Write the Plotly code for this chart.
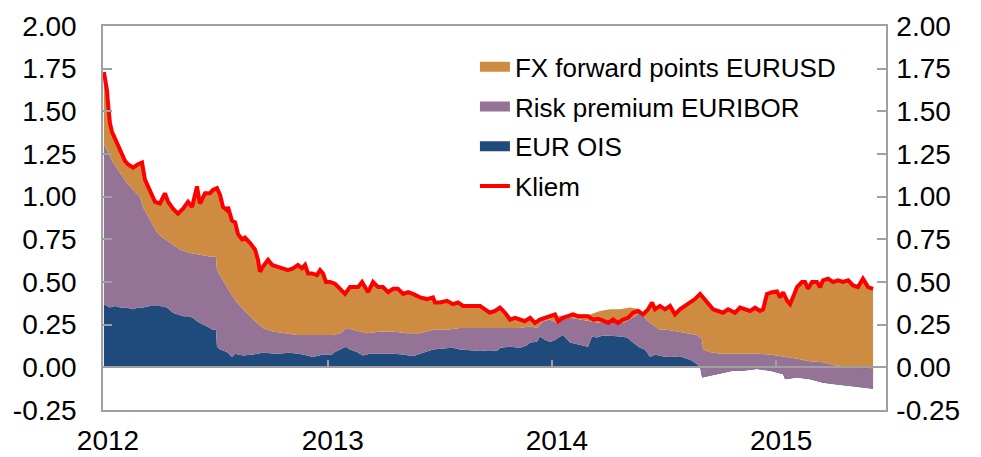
import pandas as pd
import plotly.graph_objects as go

# ---------------- data (decimal years, percentage points) ----------------
KLIEM_T = [2012.004, 2012.018, 2012.022, 2012.031, 2012.040, 2012.054, 2012.067, 2012.085, 2012.098, 2012.111,
           2012.134, 2012.156, 2012.174, 2012.187, 2012.210, 2012.232, 2012.254, 2012.276, 2012.290, 2012.312,
           2012.334, 2012.357, 2012.379, 2012.397, 2012.419, 2012.432, 2012.455, 2012.477, 2012.490, 2012.508,
           2012.522, 2012.535, 2012.553, 2012.557, 2012.575, 2012.589, 2012.602, 2012.620, 2012.633, 2012.655,
           2012.678, 2012.691, 2012.700, 2012.713, 2012.736, 2012.754, 2012.776, 2012.803, 2012.825, 2012.847,
           2012.869, 2012.887, 2012.901, 2012.914, 2012.932, 2012.954, 2012.968, 2012.981, 2012.994, 2013.012,
           2013.034, 2013.057, 2013.079, 2013.101, 2013.124, 2013.137, 2013.155, 2013.168, 2013.182, 2013.204,
           2013.226, 2013.248, 2013.271, 2013.293, 2013.315, 2013.338, 2013.360, 2013.382, 2013.413, 2013.445,
           2013.471, 2013.480, 2013.502, 2013.534, 2013.560, 2013.583, 2013.605, 2013.636, 2013.681, 2013.703,
           2013.725, 2013.748, 2013.770, 2013.792, 2013.815, 2013.837, 2013.859, 2013.881, 2013.904, 2013.926,
           2013.948, 2013.971, 2013.993, 2014.015, 2014.029, 2014.051, 2014.073, 2014.095, 2014.118, 2014.140,
           2014.162, 2014.185, 2014.207, 2014.238, 2014.252, 2014.274, 2014.296, 2014.318, 2014.341, 2014.363,
           2014.385, 2014.408, 2014.430, 2014.448, 2014.461, 2014.483, 2014.506, 2014.528, 2014.550, 2014.572,
           2014.595, 2014.617, 2014.639, 2014.662, 2014.675, 2014.697, 2014.720, 2014.742, 2014.764, 2014.787,
           2014.818, 2014.840, 2014.862, 2014.885, 2014.907, 2014.929, 2014.943, 2014.960, 2014.983, 2015.005,
           2015.018, 2015.032, 2015.050, 2015.063, 2015.076, 2015.094, 2015.116, 2015.130, 2015.143, 2015.161,
           2015.183, 2015.197, 2015.210, 2015.232, 2015.255, 2015.277, 2015.299, 2015.322, 2015.344, 2015.366,
           2015.388, 2015.411, 2015.433]
KLIEM_V = [1.73, 1.62, 1.55, 1.43, 1.38, 1.34, 1.29, 1.24, 1.21, 1.19,
           1.17, 1.19, 1.20, 1.10, 1.04, 0.97, 0.96, 1.02, 0.97, 0.93,
           0.90, 0.93, 0.97, 0.94, 1.06, 0.96, 1.02, 1.02, 1.04, 1.05,
           1.01, 0.94, 0.92, 0.94, 0.86, 0.85, 0.78, 0.75, 0.76, 0.73,
           0.69, 0.63, 0.56, 0.59, 0.63, 0.60, 0.59, 0.58, 0.57, 0.58,
           0.60, 0.58, 0.60, 0.55, 0.55, 0.54, 0.57, 0.55, 0.50, 0.50,
           0.49, 0.46, 0.43, 0.47, 0.47, 0.47, 0.50, 0.47, 0.44, 0.50,
           0.47, 0.47, 0.44, 0.46, 0.46, 0.43, 0.44, 0.43, 0.41, 0.40,
           0.41, 0.38, 0.38, 0.39, 0.37, 0.38, 0.36, 0.36, 0.36, 0.34,
           0.32, 0.33, 0.35, 0.32, 0.28, 0.29, 0.28, 0.27, 0.29, 0.26,
           0.28, 0.29, 0.30, 0.31, 0.27, 0.29, 0.30, 0.31, 0.30, 0.30,
           0.30, 0.28, 0.285, 0.27, 0.26, 0.28, 0.26, 0.28, 0.29, 0.32,
           0.33, 0.31, 0.34, 0.38, 0.34, 0.36, 0.34, 0.36, 0.31, 0.34,
           0.36, 0.385, 0.40, 0.43, 0.41, 0.38, 0.34, 0.33, 0.32, 0.34,
           0.32, 0.35, 0.34, 0.33, 0.35, 0.33, 0.34, 0.43, 0.44, 0.445,
           0.41, 0.44, 0.39, 0.37, 0.41, 0.47, 0.50, 0.50, 0.46, 0.50,
           0.50, 0.47, 0.51, 0.52, 0.50, 0.51, 0.50, 0.51, 0.48, 0.47,
           0.52, 0.47, 0.46]

# top of the stacked FX forward area where it departs from the Kliem line (H1 2014)
FX_TOP_2014_T = [2013.948, 2013.993, 2014.029, 2014.082, 2014.127, 2014.171, 2014.216, 2014.260, 2014.305,
                 2014.350, 2014.394]
FX_TOP_2014_V = [0.29, 0.31, 0.30, 0.31, 0.31, 0.31, 0.33, 0.34, 0.34, 0.35, 0.34]

EURIBOR_T = [2012.004, 2012.018, 2012.045, 2012.076, 2012.107, 2012.134, 2012.165, 2012.178, 2012.210, 2012.241,
             2012.268, 2012.299, 2012.343, 2012.388, 2012.432, 2012.477, 2012.504, 2012.508, 2012.535, 2012.566,
             2012.597, 2012.624, 2012.655, 2012.687, 2012.713, 2012.758, 2012.803, 2012.865, 2012.923, 2012.981,
             2013.025, 2013.057, 2013.088, 2013.115, 2013.177, 2013.235, 2013.293, 2013.355, 2013.413, 2013.471,
             2013.534, 2013.592, 2013.681, 2013.770, 2013.859, 2013.904, 2013.935, 2013.962, 2013.993, 2014.024,
             2014.038, 2014.082, 2014.127, 2014.171, 2014.216, 2014.274, 2014.318, 2014.363, 2014.394, 2014.416,
             2014.439, 2014.461, 2014.483, 2014.515, 2014.559, 2014.604, 2014.648, 2014.671, 2014.675, 2014.706,
             2014.751, 2014.795, 2014.853, 2014.916, 2014.974, 2015.032, 2015.094, 2015.152, 2015.210, 2015.272,
             2015.330, 2015.388, 2015.433]
EURIBOR_V = [1.31, 1.27, 1.20, 1.14, 1.08, 1.04, 1.00, 0.94, 0.86, 0.79,
             0.76, 0.73, 0.69, 0.67, 0.66, 0.65, 0.65, 0.57, 0.51, 0.44,
             0.38, 0.34, 0.30, 0.26, 0.23, 0.21, 0.20, 0.19, 0.19, 0.19,
             0.19, 0.20, 0.23, 0.22, 0.20, 0.21, 0.21, 0.20, 0.20, 0.22,
             0.22, 0.23, 0.23, 0.23, 0.23, 0.24, 0.23, 0.27, 0.28, 0.26,
             0.28, 0.29, 0.28, 0.27, 0.26, 0.26, 0.26, 0.29, 0.32, 0.29,
             0.26, 0.24, 0.22, 0.22, 0.21, 0.20, 0.19, 0.165, 0.105, 0.09,
             0.08, 0.08, 0.08, 0.08, 0.075, 0.065, 0.05, 0.035, 0.03, 0.01,
             0.005, -0.005, -0.01]

OIS_T = [2012.004, 2012.031, 2012.054, 2012.076, 2012.103, 2012.134, 2012.156, 2012.178, 2012.210, 2012.254,
         2012.285, 2012.312, 2012.334, 2012.357, 2012.379, 2012.401, 2012.419, 2012.432, 2012.464, 2012.490,
         2012.504, 2012.508, 2012.522, 2012.553, 2012.575, 2012.589, 2012.624, 2012.669, 2012.713, 2012.776,
         2012.834, 2012.892, 2012.936, 2012.981, 2013.021, 2013.034, 2013.057, 2013.083, 2013.101, 2013.132,
         2013.159, 2013.190, 2013.235, 2013.293, 2013.338, 2013.382, 2013.427, 2013.471, 2013.516, 2013.560,
         2013.592, 2013.636, 2013.681, 2013.725, 2013.757, 2013.770, 2013.815, 2013.859, 2013.890, 2013.904,
         2013.935, 2013.948, 2013.971, 2013.993, 2014.015, 2014.038, 2014.051, 2014.082, 2014.113, 2014.140,
         2014.162, 2014.180, 2014.202, 2014.225, 2014.260, 2014.305, 2014.336, 2014.363, 2014.394, 2014.416,
         2014.439, 2014.461, 2014.492, 2014.528, 2014.572, 2014.617, 2014.648, 2014.662, 2014.671, 2014.706,
         2014.751, 2014.809, 2014.853, 2014.916, 2014.974, 2015.032, 2015.041, 2015.094, 2015.152, 2015.210,
         2015.272, 2015.330, 2015.388, 2015.433]
OIS_V = [0.37, 0.35, 0.36, 0.35, 0.35, 0.34, 0.35, 0.35, 0.36, 0.36,
         0.35, 0.32, 0.31, 0.30, 0.30, 0.29, 0.27, 0.26, 0.24, 0.22,
         0.22, 0.12, 0.105, 0.09, 0.06, 0.08, 0.07, 0.075, 0.085, 0.08,
         0.085, 0.075, 0.06, 0.075, 0.075, 0.09, 0.105, 0.12, 0.105, 0.09,
         0.07, 0.08, 0.08, 0.08, 0.075, 0.065, 0.085, 0.105, 0.11, 0.115,
         0.105, 0.10, 0.095, 0.10, 0.095, 0.115, 0.12, 0.115, 0.13, 0.145,
         0.15, 0.18, 0.16, 0.15, 0.16, 0.18, 0.19, 0.145, 0.135, 0.13,
         0.12, 0.18, 0.175, 0.185, 0.185, 0.18, 0.175, 0.145, 0.115, 0.105,
         0.06, 0.075, 0.065, 0.06, 0.065, 0.045, 0.02, 0.0, -0.06, -0.05,
         -0.035, -0.02, -0.02, -0.01, -0.02, -0.04, -0.07, -0.06, -0.07, -0.09,
         -0.10, -0.11, -0.12, -0.125]

Y_TICKS = [-0.25, 0.0, 0.25, 0.5, 0.75, 1.0, 1.25, 1.5, 1.75, 2.0]
Y_TICK_TEXT = ["-0.25", "0.00", "0.25", "0.50", "0.75", "1.00", "1.25", "1.50", "1.75", "2.00"]
YEAR_TICKS = ["2012-01-01", "2013-01-01", "2014-01-01", "2015-01-01"]
YEAR_TEXT = ["2012", "2013", "2014", "2015"]
X_RANGE = ["2012-01-01", "2015-06-29"]
Y_RANGE = [-0.25, 2.0]

NAMES = {"fx": "FX forward points EURUSD", "rp": "Risk premium EURIBOR", "ois": "EUR OIS", "kliem": "Kliem"}
COLORS = {"fx": "#CD8C41", "rp": "#957396", "ois": "#1F4A7C", "kliem": "#FF0000"}


def to_dates(ts):
    base = pd.Timestamp("2012-01-01")
    return [base + pd.Timedelta(days=(t - 2012.0) * 365.25) for t in ts]


# orange area top: Kliem line, except where the FX stack sits above it in H1 2014
fx_top_t = ([t for t in KLIEM_T if t < FX_TOP_2014_T[0]] + FX_TOP_2014_T +
            [t for t in KLIEM_T if t > FX_TOP_2014_T[-1]])
fx_top_v = ([v for t, v in zip(KLIEM_T, KLIEM_V) if t < FX_TOP_2014_T[0]] + FX_TOP_2014_V +
            [v for t, v in zip(KLIEM_T, KLIEM_V) if t > FX_TOP_2014_T[-1]])

font_family = "Liberation Sans, Arial, sans-serif"
grey = "#A0A0A0"

fig = go.Figure()
# zero baseline for the first stacked band
fig.add_trace(go.Scatter(x=to_dates([OIS_T[0], OIS_T[-1]]), y=[0, 0], mode="lines",
                         line=dict(width=0), showlegend=False, hoverinfo="skip"))
fig.add_trace(go.Scatter(x=to_dates(OIS_T), y=OIS_V, mode="lines", fill="tonexty",
                         fillcolor=COLORS["ois"], line=dict(width=0, color=COLORS["ois"]),
                         name=NAMES["ois"], showlegend=False))
fig.add_trace(go.Scatter(x=to_dates(EURIBOR_T), y=EURIBOR_V, mode="lines", fill="tonexty",
                         fillcolor=COLORS["rp"], line=dict(width=0, color=COLORS["rp"]),
                         name=NAMES["rp"], showlegend=False))
fig.add_trace(go.Scatter(x=to_dates(fx_top_t), y=fx_top_v, mode="lines", fill="tonexty",
                         fillcolor=COLORS["fx"], line=dict(width=0, color=COLORS["fx"]),
                         name=NAMES["fx"], showlegend=False))
# legend swatches
for key in ["fx", "rp", "ois"]:
    fig.add_trace(go.Scatter(x=[None], y=[None], mode="lines", name=NAMES[key], legendgroup=key,
                             line=dict(color=COLORS[key], width=13), showlegend=True))
fig.add_trace(go.Scatter(x=to_dates(KLIEM_T), y=KLIEM_V, mode="lines", name=NAMES["kliem"],
                         legendgroup="kliem", line=dict(color=COLORS["kliem"], width=4)))
# carriers for secondary axes
fig.add_trace(go.Scatter(x=to_dates([KLIEM_T[0]]), y=[None], yaxis="y2", showlegend=False,
                         hoverinfo="skip", mode="lines"))
fig.add_trace(go.Scatter(x=to_dates([KLIEM_T[0]]), y=[None], xaxis="x2", showlegend=False,
                         hoverinfo="skip", mode="lines"))

tickfont = dict(family=font_family, size=28, color="#000000")
yaxis_common = dict(range=Y_RANGE, tickvals=Y_TICKS, ticktext=Y_TICK_TEXT, ticks="inside", ticklen=9,
                    tickcolor=grey, tickwidth=1.5, showgrid=False, zeroline=False, showline=True,
                    linecolor=grey, linewidth=1.5, tickfont=tickfont, fixedrange=True, automargin=False)

# the page body adds an 8 px offset, so the figure is 8 px smaller than the window
fig.update_layout(
    width=973, height=449,
    margin=dict(l=95, r=95, t=18, b=47, autoexpand=False),
    paper_bgcolor="white", plot_bgcolor="white",
    font=dict(family=font_family, color="#000000"),
    xaxis=dict(type="date", range=X_RANGE, tickvals=YEAR_TICKS, ticktext=YEAR_TEXT, ticks="",
               showgrid=False, zeroline=False, showline=True, mirror=True, linecolor=grey, linewidth=1.5,
               tickfont=dict(family=font_family, size=28, color="#000000"), ticklabelstandoff=5,
               ticklabelshift=5, automargin=False),
    xaxis2=dict(type="date", range=X_RANGE, overlaying="x", anchor="free",
                position=(0 - Y_RANGE[0]) / (Y_RANGE[1] - Y_RANGE[0]),
                tickvals=YEAR_TICKS, ticks="inside", ticklen=7, tickcolor=grey, tickwidth=1.5,
                showticklabels=False, showgrid=False, zeroline=False, showline=True,
                linecolor=grey, linewidth=1.5, layer="above traces", automargin=False),
    yaxis=dict(**yaxis_common, side="left", ticklabelstandoff=19),
    yaxis2=dict(**yaxis_common, side="right", overlaying="y", anchor="x", ticklabelstandoff=3),
    legend=dict(x=0.475, y=0.955, xanchor="left", yanchor="top", bgcolor="rgba(0,0,0,0)",
                font=dict(family=font_family, size=26, color="#000000"), traceorder="grouped",
                tracegroupgap=3, itemwidth=30),
    showlegend=True,
)

fig.write_html("out.html")
